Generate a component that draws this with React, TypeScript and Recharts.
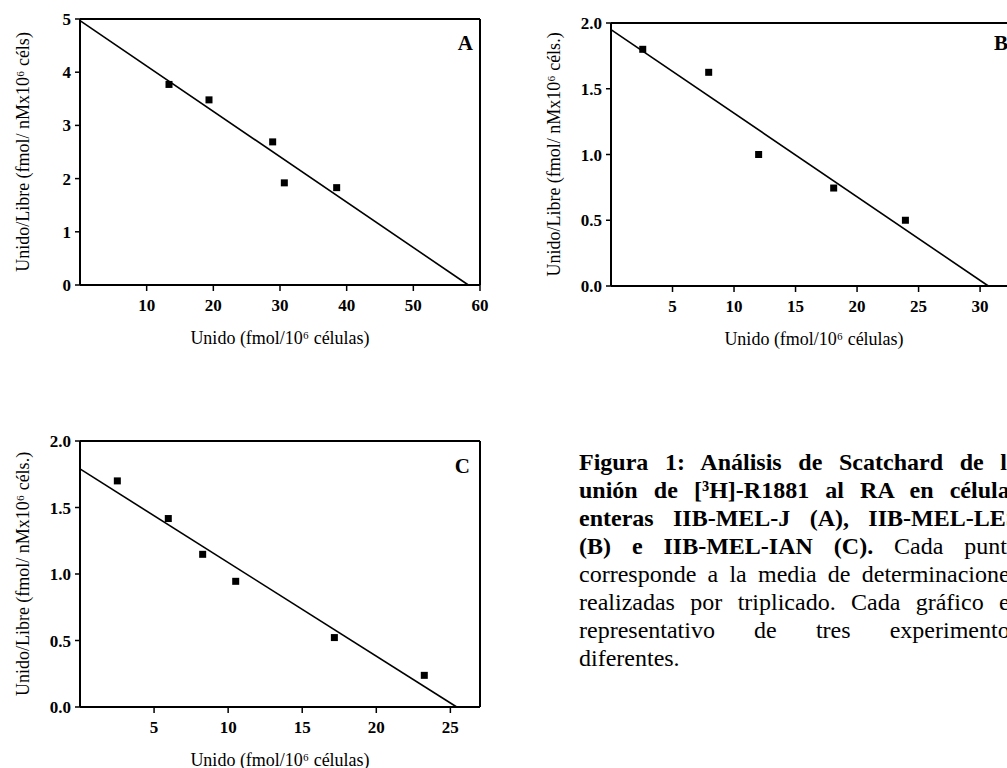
import React from "react";
import { ScatterChart, Scatter, XAxis, YAxis, ReferenceLine } from "recharts";

const SERIF = '"Liberation Serif", "Times New Roman", serif';

// Panel A – IIB-MEL-J
const boundA = [13.35, 19.35, 28.9, 30.65, 38.5];
const ratioA = [3.77, 3.48, 2.69, 1.92, 1.83];
const fitA = [{ x: 0, y: 4.97 }, { x: 58.25, y: 0 }];
const xTicksA = [10, 20, 30, 40, 50, 60];
const yTicksA = [0, 1, 2, 3, 4, 5];

// Panel B – IIB-MEL-LES
const boundB = [2.58, 7.94, 12.0, 18.1, 23.93];
const ratioB = [1.8, 1.625, 1.0, 0.745, 0.5];
const fitB = [{ x: 0, y: 1.95 }, { x: 30.67, y: 0 }];
const xTicksB = [5, 10, 15, 20, 25, 30];
const yTicksB = [0, 0.5, 1, 1.5, 2];

// Panel C – IIB-MEL-IAN
const boundC = [2.52, 5.96, 8.28, 10.51, 17.17, 23.24];
const ratioC = [1.7, 1.417, 1.148, 0.945, 0.522, 0.238];
const fitC = [{ x: 0, y: 1.79 }, { x: 25.43, y: 0 }];
const xTicksC = [5, 10, 15, 20, 25];
const yTicksC = [0, 0.5, 1, 1.5, 2];

const xTitle = "Unido (fmol/10\u2076 células)";

const Y_W = 60;
const X_H = 30;
const MARGIN = { top: 19, right: 20, bottom: 55, left: 20 };

type Pt = { x: number; y: number };

type PanelProps = {
  left: number;
  top: number;
  plotW: number;
  plotH: number;
  xMax: number;
  yMax: number;
  xTicks: number[];
  yTicks: number[];
  bound: number[];
  ratio: number[];
  fit: Pt[];
  letter: string;
  letterDx: number;
  letterDy: number;
  yTitle: string;
  yFormat: (v: number) => string;
};

const Square = (p: any) => (
  <rect x={p.cx - 3.5} y={p.cy - 3.5} width={7} height={7} fill="#000" />
);

function Panel(props: PanelProps) {
  const { left, top, plotW, plotH, xMax, yMax, xTicks, yTicks, bound, ratio, fit } = props;
  const width = MARGIN.left + Y_W + plotW + MARGIN.right;
  const height = MARGIN.top + plotH + X_H + MARGIN.bottom;
  const points = bound.map((x, i) => ({ x, y: ratio[i] }));
  const tickStyle = { fill: "#000", fontSize: 17, fontWeight: 700, fontFamily: SERIF };

  return (
    <div style={{ position: "absolute", left, top }}>
      <ScatterChart width={width} height={height} margin={MARGIN}>
        <XAxis
          type="number"
          dataKey="x"
          domain={[0, xMax]}
          ticks={xTicks}
          allowDataOverflow
          height={X_H}
          tickSize={6}
          tickMargin={8}
          axisLine={{ stroke: "#000", strokeWidth: 2 }}
          tickLine={{ stroke: "#000", strokeWidth: 1.5 }}
          tick={tickStyle}
          label={{
            value: xTitle,
            position: "bottom",
            offset: 16,
            fill: "#000",
            fontSize: 18,
            fontFamily: SERIF,
          }}
        />
        <YAxis
          type="number"
          dataKey="y"
          domain={[0, yMax]}
          ticks={yTicks}
          allowDataOverflow
          width={Y_W}
          tickSize={5}
          tickMargin={4}
          tickFormatter={props.yFormat}
          axisLine={{ stroke: "#000", strokeWidth: 2 }}
          tickLine={{ stroke: "#000", strokeWidth: 1.5 }}
          tick={tickStyle}
          label={{
            value: props.yTitle,
            angle: -90,
            position: "insideLeft",
            offset: 3,
            fill: "#000",
            fontSize: 18,
            fontFamily: SERIF,
            style: { textAnchor: "middle" },
          }}
        />
        {/* frame: top and right edges */}
        <ReferenceLine y={yMax} stroke="#000" strokeWidth={2} />
        <ReferenceLine x={xMax} stroke="#000" strokeWidth={2} />
        {/* linear regression of the Scatchard plot */}
        <ReferenceLine segment={fit} stroke="#000" strokeWidth={1.6} ifOverflow="visible" />
        <Scatter data={points} isAnimationActive={false} shape={Square} />
        <text
          x={MARGIN.left + Y_W + plotW - props.letterDx}
          y={MARGIN.top + props.letterDy}
          textAnchor="end"
          fontFamily={SERIF}
          fontWeight={700}
          fontSize={21}
          fill="#000"
        >
          {props.letter}
        </text>
      </ScatterChart>
    </div>
  );
}

const int = (v: number) => String(v);
const oneDec = (v: number) => v.toFixed(1);

const bold: React.CSSProperties = { fontWeight: 700 };
const lineStyle: React.CSSProperties = { textAlign: "justify", textAlignLast: "justify", whiteSpace: "nowrap" };

function Caption() {
  return (
    <div
      style={{
        position: "absolute",
        left: 579,
        top: 448,
        width: 440,
        fontFamily: SERIF,
        fontSize: 24,
        lineHeight: "28px",
        color: "#000",
      }}
    >
      <div style={{ ...lineStyle, ...bold }}>Figura 1: Análisis de Scatchard de la</div>
      <div style={{ ...lineStyle, ...bold }}>unión de [³H]-R1881 al RA en células</div>
      <div style={{ ...lineStyle, ...bold }}>enteras IIB-MEL-J (A), IIB-MEL-LES</div>
      <div style={lineStyle}>
        <span style={bold}>(B) e IIB-MEL-IAN (C).</span> Cada punto
      </div>
      <div style={lineStyle}>corresponde a la media de determinaciones</div>
      <div style={lineStyle}>realizadas por triplicado. Cada gráfico es</div>
      <div style={lineStyle}>representativo de tres experimentos</div>
      <div>diferentes.</div>
    </div>
  );
}

export default function App() {
  return (
    <div
      style={{
        position: "absolute",
        left: 0,
        top: 0,
        width: 1007,
        height: 768,
        overflow: "hidden",
        background: "#fff",
      }}
    >
      <Panel
        left={0}
        top={0}
        plotW={400}
        plotH={266}
        xMax={60}
        yMax={5}
        xTicks={xTicksA}
        yTicks={yTicksA}
        bound={boundA}
        ratio={ratioA}
        fit={fitA}
        letter="A"
        letterDx={7}
        letterDy={31}
        yTitle={"Unido/Libre (fmol/ nMx10\u2076 céls)"}
        yFormat={int}
      />
      <Panel
        left={531}
        top={4}
        plotW={406}
        plotH={263}
        xMax={33}
        yMax={2}
        xTicks={xTicksB}
        yTicks={yTicksB}
        bound={boundB}
        ratio={ratioB}
        fit={fitB}
        letter="B"
        letterDx={9}
        letterDy={27}
        yTitle={"Unido/Libre (fmol/ nMx10\u2076 céls.)"}
        yFormat={oneDec}
      />
      <Panel
        left={0}
        top={422}
        plotW={400}
        plotH={266}
        xMax={27}
        yMax={2}
        xTicks={xTicksC}
        yTicks={yTicksC}
        bound={boundC}
        ratio={ratioC}
        fit={fitC}
        letter="C"
        letterDx={10}
        letterDy={32}
        yTitle={"Unido/Libre (fmol/ nMx10\u2076 céls.)"}
        yFormat={oneDec}
      />
      <Caption />
    </div>
  );
}
